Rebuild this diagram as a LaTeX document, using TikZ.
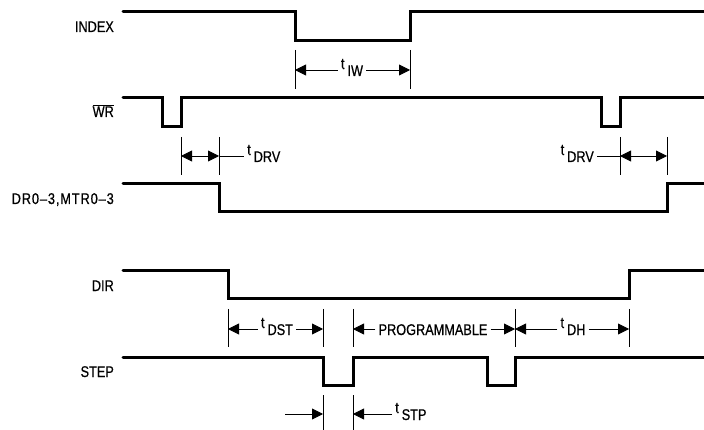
\documentclass[tikz,border=0pt]{standalone}
\usepackage{fontspec}
\setmainfont{Liberation Sans}[FakeStretch=0.82,FakeBold=0.6]
\usetikzlibrary{arrows.meta}
\newcommand\tsub[1]{\raisebox{7pt}{t}\hspace{3pt}#1}
\begin{document}
\begin{tikzpicture}[x=1pt,y=-1pt,
  sig/.style={line width=3pt,line cap=round,line join=miter},
  tickln/.style={line width=0.9pt},
  dimarr/.style={line width=0.9pt,-{Triangle[length=11pt,width=11pt]}},
  dimboth/.style={line width=0.9pt,{Triangle[length=11pt,width=11pt]}-{Triangle[length=11pt,width=11pt]}},
  dimline/.style={line width=0.9pt},
  siglab/.style={anchor=base east,inner sep=0pt,font=\fontsize{15.5}{17}\selectfont},
  dimlab/.style={anchor=base,inner sep=3pt,font=\fontsize{15.5}{17}\selectfont}]
\useasboundingbox (0,0) rectangle (704,430);
\fill[white] (0,0) rectangle (704,430);

% signal labels
\node[siglab] (lINDEX) at (114,32) {INDEX};
\node[siglab] (lWR) at (114,117) {$\overline{\hbox{WR}}$};
\node[siglab] (lDR) at (114,204) {\addfontfeatures{LetterSpace=6}DR0–3,MTR0–3};
\node[siglab] (lDIR) at (114,291) {DIR};
\node[siglab] (lSTEP) at (114,377) {STEP};

% waveforms
\draw[sig] (123,12) -- (295,12) -- (295,41) -- (410,41) -- (410,12) -- (706,12);
\draw[sig] (123,98) -- (162,98) -- (162,127) -- (181,127) -- (181,98) -- (601,98) -- (601,127) -- (620,127) -- (620,98) -- (706,98);
\draw[sig] (123,184) -- (219,184) -- (219,212) -- (667,212) -- (667,184) -- (706,184);
\draw[sig] (123,271) -- (228,271) -- (228,299) -- (629,299) -- (629,271) -- (706,271);
\draw[sig] (123,357) -- (323,357) -- (323,385) -- (353,385) -- (353,357) -- (487,357) -- (487,385) -- (515,385) -- (515,357) -- (706,357);

% tick marks
\foreach \x in {295,410} \draw[tickln] (\x,50) -- (\x,89);
\foreach \x in {181,219,620,667} \draw[tickln] (\x,137) -- (\x,175);
\foreach \x in {228,323,353,515,629} \draw[tickln] (\x,309) -- (\x,347);
\foreach \x in {323,353} \draw[tickln] (\x,395) -- (\x,431);

% tIW
\coordinate (iwL) at (295,70);
\coordinate (iwR) at (410,70);
\node[dimlab] (tIW) at (352,76) {\tsub{IW}};
\draw[dimarr] (tIW.west |- iwL) -- (iwL);
\draw[dimarr] (tIW.east |- iwR) -- (iwR);

% tDRV left
\coordinate (drvA) at (181,156);
\coordinate (drvB) at (219,156);
\node[dimlab,anchor=base west] (tDRV1) at (244,162) {\tsub{DRV}};
\draw[dimboth] (drvA) -- (drvB);
\draw[dimline] (drvB) -- (tDRV1.west |- drvB);

% tDRV right
\coordinate (drvC) at (620,156);
\coordinate (drvD) at (667,156);
\node[dimlab,anchor=base east] (tDRV2) at (597,162) {\tsub{DRV}};
\draw[dimboth] (drvC) -- (drvD);
\draw[dimline] (tDRV2.east |- drvC) -- (drvC);

% tDST
\coordinate (dstL) at (228,329);
\coordinate (dstR) at (323,329);
\node[dimlab] (tDST) at (277,335) {\tsub{DST}};
\draw[dimarr] (tDST.west |- dstL) -- (dstL);
\draw[dimarr] (tDST.east |- dstR) -- (dstR);

% PROGRAMMABLE
\coordinate (prL) at (353,329);
\coordinate (prR) at (515,329);
\node[dimlab] (prog) at (433,335) {PROGRAMMABLE};
\draw[dimarr] (prog.west |- prL) -- (prL);
\draw[dimarr] (prog.east |- prR) -- (prR);

% tDH
\coordinate (dhL) at (515,329);
\coordinate (dhR) at (629,329);
\node[dimlab] (tDH) at (573,335) {\tsub{DH}};
\draw[dimarr] (tDH.west |- dhL) -- (dhL);
\draw[dimarr] (tDH.east |- dhR) -- (dhR);

% tSTP
\coordinate (stpS) at (285,414);
\coordinate (stpL) at (323,414);
\coordinate (stpR) at (353,414);
\node[dimlab,anchor=base west] (tSTP) at (392,420) {\tsub{STP}};
\draw[dimarr] (stpS) -- (stpL);
\draw[dimarr] (tSTP.west |- stpR) -- (stpR);
\end{tikzpicture}
\end{document}
